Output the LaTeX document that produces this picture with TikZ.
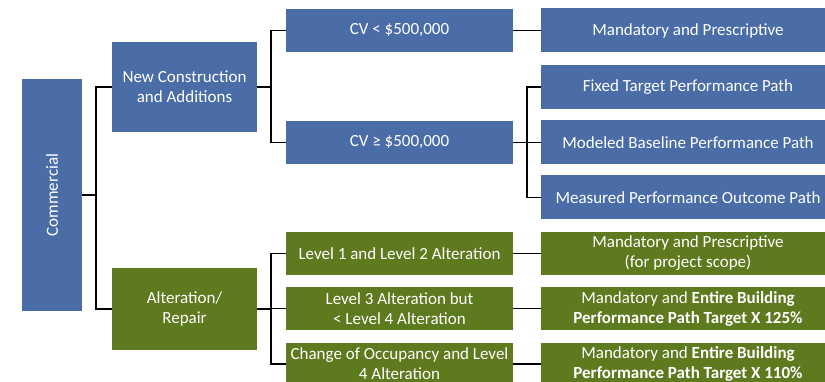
\documentclass[tikz,border=0pt]{standalone}
\usepackage{fontspec}
\setmainfont{Carlito}
\usepackage{tikz}
\definecolor{boxblue}{HTML}{4A6DA7}
\definecolor{boxgreen}{HTML}{5E7A1E}

\begin{document}
\begin{tikzpicture}[x=1pt, y=-1pt,
    box/.style={rectangle, text=white, align=center, inner sep=0pt,
      font=\fontsize{17}{20}\selectfont},
    bluebox/.style={box, fill=boxblue},
    greenbox/.style={box, fill=boxgreen},
    midbox/.style={minimum width=227pt, minimum height=43pt},
    endbox/.style={minimum width=294pt, minimum height=44pt},
    conn/.style={draw=black, line width=1.6pt}]
    \useasboundingbox (0,0) rectangle (825,382);

    % Root
    \node[bluebox, minimum width=60pt, minimum height=232pt] (com) at (52,195) {\rotatebox{90}{Commercial}};

    % Project types
    \node[bluebox, minimum width=145pt, minimum height=90pt] (newcon) at (184.5,87) {New Construction\\and Additions};
    \node[greenbox, minimum width=145pt, minimum height=82pt] (alter) at (184.5,309) {Alteration/\\Repair};

    % New construction branch
    \node[bluebox, midbox] (cvlow) at (399.5,30.5) {CV < \$500,000};
    \node[bluebox, midbox] (cvhigh) at (399.5,142.5) {CV ≥ \$500,000};

    \node[bluebox, endbox] (mandnew) at (688,30.5) {Mandatory and Prescriptive};
    \node[bluebox, endbox] (fixed) at (688,87) {Fixed Target Performance Path};
    \node[bluebox, endbox] (modeled) at (688,142.5) {Modeled Baseline Performance Path};
    \node[bluebox, endbox] (measured) at (688,197.5) {Measured Performance Outcome Path};

    % Alteration branch
    \node[greenbox, midbox] (lvlone) at (399.5,253.5) {Level 1 and Level 2 Alteration};
    \node[greenbox, midbox] (lvlthree) at (399.5,308.5) {Level 3 Alteration but\\< Level 4 Alteration};
    \node[greenbox, midbox] (occup) at (399.5,364) {Change of Occupancy and Level\\4 Alteration};

    \node[greenbox, endbox, minimum height=43pt] (mandalt) at (688,253.5) {Mandatory and Prescriptive\\(for project scope)};
    \node[greenbox, endbox, minimum height=43pt] (target125) at (688,308.5) {Mandatory and \textbf{Entire Building}\\\textbf{Performance Path Target X 125\%}};
    \node[greenbox, endbox, minimum height=43pt] (target110) at (688,364) {Mandatory and \textbf{Entire Building}\\\textbf{Performance Path Target X 110\%}};

    % Connectors
    \draw[conn] (com.east) -- ++(14,0) coordinate (trunkroot);
    \draw[conn] (trunkroot) |- (newcon.west);
    \draw[conn] (trunkroot) |- (alter.west);

    \draw[conn] (newcon.east) -- ++(14,0) coordinate (trunknew);
    \draw[conn] (trunknew) |- (cvlow.west);
    \draw[conn] (trunknew) |- (cvhigh.west);

    \draw[conn] (cvlow.east) -- (mandnew.west);
    \draw[conn] (cvhigh.east) -- ++(14,0) coordinate (trunkperf);
    \draw[conn] (trunkperf) |- (fixed.west);
    \draw[conn] (trunkperf) |- (modeled.west);
    \draw[conn] (trunkperf) |- (measured.west);

    \draw[conn] (alter.east) -- ++(14,0) coordinate (trunkalt);
    \draw[conn] (trunkalt) |- (lvlone.west);
    \draw[conn] (trunkalt) |- (lvlthree.west);
    \draw[conn] (trunkalt) |- (occup.west);

    \draw[conn] (lvlone.east) -- (mandalt.west);
    \draw[conn] (lvlthree.east) -- (target125.west);
    \draw[conn] (occup.east) -- (target110.west);
\end{tikzpicture}
\end{document}
